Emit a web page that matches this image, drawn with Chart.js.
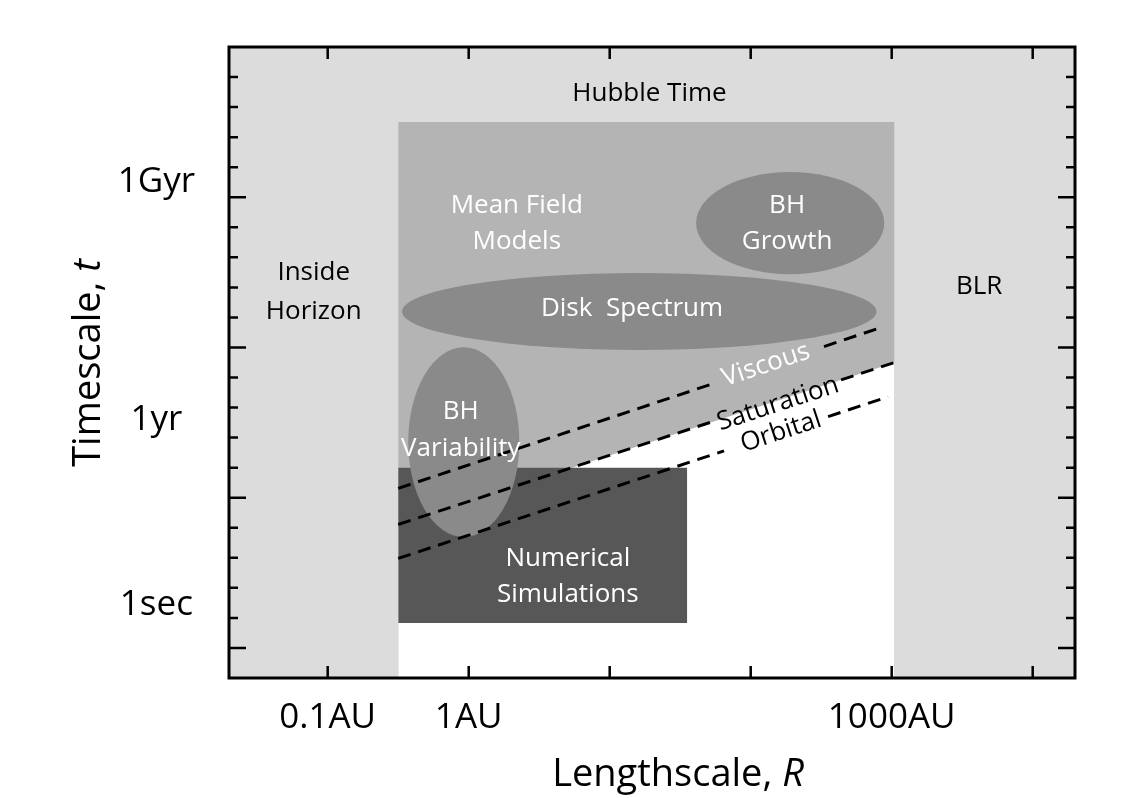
<!DOCTYPE html>
<html>
<head>
<meta charset="utf-8">
<script src="https://cdn.jsdelivr.net/npm/chart.js@4.4.1/dist/chart.umd.min.js"></script>
<style>
  html, body { margin: 0; padding: 0; background: #ffffff; }
  canvas { display: block; }
</style>
</head>
<body>
<canvas id="scales" width="1126" height="798"></canvas>
<script>
// ---- Axes -------------------------------------------------------------
// Horizontal axis: log10(R / AU)
const xTickValues = [-1, 0, 1, 2, 3, 4];
const xLabelValues = [-1, 0, 3];
const xLabels = ['0.1AU', '1AU', '1000AU'];

// Vertical axis: schematic timescale units, one unit per minor tick
const yTickValues = [1, 2, 3, 4, 5, 6, 7, 8, 9, 10, 11, 12, 13, 14, 15, 16, 17, 18, 19, 20];
const yMajorTicks = [1, 6, 11, 16];
const yLabelValues = [2.43, 8.59, 16.52];
const yLabels = ['1sec', '1yr', '1Gyr'];

// ---- Regions ----------------------------------------------------------
// Mean-field band: top edge, filled down to the axis
const meanFieldEdge = [{ x: -0.5, y: 18.5 }, { x: 3.02, y: 18.5 }];
// Numerical simulations box: top edge and floor
const numericalEdge = [{ x: -0.5, y: 7.0 }, { x: 1.55, y: 7.0 }];
const numericalFloor = 1.83;

// ---- Characteristic timescales (null = gap under the label) -----------
const viscousLine = [
  { x: -0.5, y: 6.31 }, { x: 1.754, y: 9.83 }, { x: 2.1, y: null },
  { x: 2.52, y: 11.03 }, { x: 2.94, y: 11.69 }
];
const saturationLine = [
  { x: -0.5, y: 5.11 }, { x: 1.715, y: 8.51 }, { x: 2.2, y: null },
  { x: 2.641, y: 9.92 }, { x: 3.02, y: 10.50 }
];
const orbitalLine = [
  { x: -0.5, y: 3.98 }, { x: 1.811, y: 7.56 }, { x: 2.2, y: null },
  { x: 2.549, y: 8.70 }, { x: 2.974, y: 9.36 }
];

// ---- Ellipses: centre and half-axes in axis units ---------------------
const ellipseNames = ['BH Growth', 'Disk Spectrum', 'BH Variability'];
const ellipseCx = [2.28, 1.21, -0.035];
const ellipseCy = [15.14, 12.20, 7.85];
const ellipseRx = [0.667, 1.682, 0.394];
const ellipseRy = [1.70, 1.28, 3.16];

// ---- Text placed inside the plot (anchor in axis units) --------------
const regionText = [
  { text: 'Hubble Time', x: 1.282, y: 19.45, dark: true },
  { text: 'Inside', x: -1.099, y: 13.48, dark: true },
  { text: 'Horizon', x: -1.099, y: 12.21, dark: true },
  { text: 'BLR', x: 3.62, y: 13.01, dark: true },
  { text: 'Mean Field', x: 0.341, y: 15.71, dark: false },
  { text: 'Models', x: 0.341, y: 14.51, dark: false },
  { text: 'BH', x: 2.258, y: 15.71, dark: false },
  { text: 'Growth', x: 2.258, y: 14.51, dark: false },
  { text: 'Disk  Spectrum', x: 1.158, y: 12.28, dark: false },
  { text: 'BH', x: -0.056, y: 8.85, dark: false },
  { text: 'Variability', x: -0.056, y: 7.62, dark: false },
  { text: 'Numerical', x: 0.703, y: 3.99, dark: false },
  { text: 'Simulations', x: 0.703, y: 2.76, dark: false }
];
const lineText = [
  { text: 'Viscous', x: 2.109, y: 10.42, dark: false, along: viscousLine },
  { text: 'Saturation', x: 2.194, y: 9.12, dark: true, along: saturationLine },
  { text: 'Orbital', x: 2.215, y: 8.19, dark: true, along: orbitalLine }
];

const FONT = '"Open Sans", "Noto Sans", sans-serif';
const LIGHT = '#dcdcdc', MEDIUM = '#b4b4b4', ELLIPSE = '#8a8a8a', DARK = '#575757';

const dashed = (data, order) => ({
  type: 'line', data, order,
  borderColor: '#000', borderWidth: 3, borderDash: [13, 8],
  pointRadius: 0, fill: false, spanGaps: false, tension: 0
});

// the plot box is sized by layout padding alone
const noEdgePadding = s => {
  s.paddingTop = 0; s.paddingBottom = 0; s.paddingLeft = 0; s.paddingRight = 0;
};

const diagram = {
  id: 'diagram',
  beforeDatasetsDraw(chart) {
    const { ctx, chartArea: a } = chart;
    ctx.save();
    ctx.fillStyle = LIGHT;
    ctx.fillRect(a.left, a.top, a.width, a.height);
    ctx.restore();
  },
  afterDatasetDraw(chart, args) {
    if (chart.data.datasets[args.index].label !== 'Numerical Simulations') return;
    const { ctx, scales: { x, y } } = chart;
    ctx.save();
    ctx.fillStyle = ELLIPSE;
    ellipseNames.forEach((_, i) => {
      const cx = x.getPixelForValue(ellipseCx[i]);
      const cy = y.getPixelForValue(ellipseCy[i]);
      const rx = Math.abs(x.getPixelForValue(ellipseCx[i] + ellipseRx[i]) - cx);
      const ry = Math.abs(y.getPixelForValue(ellipseCy[i] + ellipseRy[i]) - cy);
      ctx.beginPath();
      ctx.ellipse(cx, cy, rx, ry, 0, 0, Math.PI * 2);
      ctx.fill();
    });
    ctx.restore();
  },
  afterDatasetsDraw(chart) {
    const { ctx, chartArea: a, scales: { x, y } } = chart;
    ctx.save();
    ctx.font = '26px ' + FONT;
    ctx.textAlign = 'center';
    ctx.textBaseline = 'middle';
    regionText.forEach(t => {
      ctx.fillStyle = t.dark ? '#000' : '#fff';
      ctx.fillText(t.text, x.getPixelForValue(t.x), y.getPixelForValue(t.y));
    });
    lineText.forEach(t => {
      const p0 = t.along[0], p1 = t.along[t.along.length - 1];
      const ang = Math.atan2(y.getPixelForValue(p1.y) - y.getPixelForValue(p0.y),
                             x.getPixelForValue(p1.x) - x.getPixelForValue(p0.x));
      ctx.save();
      ctx.translate(x.getPixelForValue(t.x), y.getPixelForValue(t.y));
      ctx.rotate(ang);
      ctx.fillStyle = t.dark ? '#000' : '#fff';
      ctx.fillText(t.text, 0, 0);
      ctx.restore();
    });

    // inward tick marks on all four sides
    ctx.strokeStyle = '#000';
    ctx.lineWidth = 2.5;
    ctx.beginPath();
    xTickValues.forEach(v => {
      const px = x.getPixelForValue(v);
      ctx.moveTo(px, a.top); ctx.lineTo(px, a.top + 12);
      ctx.moveTo(px, a.bottom); ctx.lineTo(px, a.bottom - 12);
    });
    yTickValues.forEach(v => {
      const py = y.getPixelForValue(v);
      const len = yMajorTicks.includes(v) ? 17 : 9;
      ctx.moveTo(a.left, py); ctx.lineTo(a.left + len, py);
      ctx.moveTo(a.right, py); ctx.lineTo(a.right - len, py);
    });
    ctx.stroke();
    ctx.lineWidth = 3;
    ctx.strokeRect(a.left, a.top, a.width, a.height);

    // axis titles with italic symbols
    const titled = (plain, sym, size) => {
      ctx.font = size + 'px ' + FONT;
      const w1 = ctx.measureText(plain).width;
      ctx.font = 'italic ' + size + 'px ' + FONT;
      const w2 = ctx.measureText(sym).width;
      const start = -(w1 + w2) / 2;
      ctx.textAlign = 'left';
      ctx.textBaseline = 'alphabetic';
      ctx.fillStyle = '#000';
      ctx.font = size + 'px ' + FONT;
      ctx.fillText(plain, start, 0);
      ctx.font = 'italic ' + size + 'px ' + FONT;
      ctx.fillText(sym, start + w1, 0);
    };
    ctx.save();
    ctx.translate(678, 786);
    titled('Lengthscale, ', 'R', 38);
    ctx.restore();
    ctx.save();
    ctx.translate(100, 363);
    ctx.rotate(-Math.PI / 2);
    titled('Timescale, ', 't', 38);
    ctx.restore();
    ctx.restore();
  }
};

new Chart(document.getElementById('scales'), {
  type: 'line',
  data: {
    datasets: [
      dashed(viscousLine, 0),
      dashed(saturationLine, 1),
      dashed(orbitalLine, 2),
      {
        label: 'Numerical Simulations', type: 'line', order: 3,
        data: numericalEdge, fill: { value: numericalFloor },
        backgroundColor: DARK, borderColor: 'rgba(0,0,0,0)', borderWidth: 1, pointRadius: 0
      },
      {
        label: 'Below saturation', type: 'line', order: 4,
        data: [saturationLine[0], saturationLine[saturationLine.length - 1]], fill: 'start',
        backgroundColor: '#ffffff', borderColor: 'rgba(0,0,0,0)', borderWidth: 1, pointRadius: 0
      },
      {
        label: 'Mean Field Models', type: 'line', order: 5,
        data: meanFieldEdge, fill: 'start',
        backgroundColor: MEDIUM, borderColor: 'rgba(0,0,0,0)', borderWidth: 1, pointRadius: 0
      }
    ]
  },
  options: {
    responsive: false,
    animation: false,
    events: [],
    layout: { padding: { top: 47, right: 51, left: 0, bottom: 0 } },
    plugins: { legend: { display: false }, tooltip: { enabled: false }, title: { display: false } },
    scales: {
      x: {
        type: 'linear', position: 'bottom', min: -1.70, max: 4.30,
        afterBuildTicks: s => { s.ticks = xLabelValues.map(v => ({ value: v })); },
        afterFit: s => { s.height = 120; noEdgePadding(s); },
        grid: { display: false, drawTicks: false },
        border: { display: false },
        ticks: {
          autoSkip: false, maxRotation: 0, padding: 19, color: '#000',
          font: { family: FONT, size: 35 },
          callback: (v, i) => xLabels[i]
        }
      },
      y: {
        type: 'linear', position: 'left', min: 0, max: 21,
        afterBuildTicks: s => { s.ticks = yLabelValues.map(v => ({ value: v })); },
        afterFit: s => { s.width = 229; noEdgePadding(s); },
        grid: { display: false, drawTicks: false },
        border: { display: false },
        ticks: {
          autoSkip: false, crossAlign: 'center', padding: 34, color: '#000',
          font: { family: FONT, size: 35 },
          callback: (v, i) => yLabels[i]
        }
      }
    }
  },
  plugins: [diagram]
});
</script>
</body>
</html>
